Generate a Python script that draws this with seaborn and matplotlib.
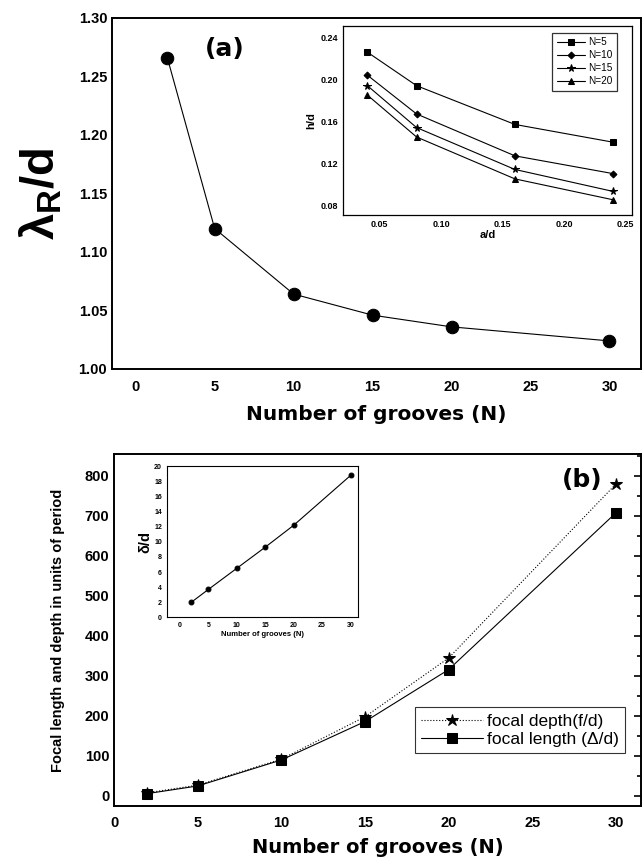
import matplotlib
matplotlib.use("Agg")
import matplotlib.pyplot as plt
import seaborn as sns
import numpy as np
from matplotlib.ticker import AutoMinorLocator

sns.set_style("white")
plt.rcParams['font.family'] = ['Liberation Sans', 'DejaVu Sans']
plt.rcParams['mathtext.fontset'] = 'custom'
plt.rcParams['mathtext.rm'] = 'Liberation Sans:bold'
plt.rcParams['mathtext.it'] = 'Liberation Sans:bold'
plt.rcParams['mathtext.bf'] = 'Liberation Sans:bold'
for key in ['text.color', 'axes.labelcolor', 'xtick.color', 'ytick.color', 'axes.edgecolor']:
    plt.rcParams[key] = 'black'

# ---- data: panel (a) ----
grooves = [2, 5, 10, 15, 20, 30]
lambda_r = [1.266, 1.120, 1.064, 1.046, 1.036, 1.024]

# inset (a)
a_d = [0.04, 0.08, 0.16, 0.24]
h_n5 = [0.226, 0.194, 0.157, 0.140]
h_n10 = [0.204, 0.167, 0.127, 0.110]
h_n15 = [0.194, 0.154, 0.114, 0.093]
h_n20 = [0.185, 0.145, 0.105, 0.085]
inset_labels = ["N=5", "N=10", "N=15", "N=20"]

# ---- data: panel (b) ----
focal_depth = [8, 27, 92, 198, 345, 780]
focal_length = [6, 25, 90, 186, 316, 708]
delta_d = [2.0, 3.7, 6.5, 9.3, 12.2, 18.8]

XFONT = 'DejaVu Sans'

fig = plt.figure(figsize=(6.42, 8.67), dpi=100)

def style_ax(ax, size=10.5, length=5, width=1.2):
    ax.tick_params(which='both', direction='in', width=width, color='k', labelcolor='k')
    ax.tick_params(which='major', length=length, labelsize=size)
    ax.tick_params(which='minor', length=length * 0.6)
    for s in ax.spines.values():
        s.set_linewidth(1.4)
        s.set_color('k')
    for lab in ax.get_xticklabels() + ax.get_yticklabels():
        lab.set_fontweight('bold')

# ===== Panel (a) =====
axa = fig.add_axes([0.1745, 0.5744, 0.824, 0.405])
sns.lineplot(x=grooves, y=lambda_r, ax=axa, color='k', lw=0.8, marker='o',
             markersize=9, markeredgecolor='k', markerfacecolor='k')
axa.set_xlim(-1.5, 32)
axa.set_ylim(1.0, 1.3)
axa.set_xticks([0, 5, 10, 15, 20, 25, 30])
axa.set_yticks(np.round(np.arange(1.0, 1.301, 0.05), 2))
axa.set_yticklabels([f"{v:.2f}" for v in np.arange(1.0, 1.301, 0.05)])
axa.xaxis.set_minor_locator(AutoMinorLocator(2))
axa.yaxis.set_minor_locator(AutoMinorLocator(2))
style_ax(axa)
axa.tick_params(axis='x', pad=8)
axa.set_xlabel("Number of grooves (N)", fontsize=14.5, fontweight='bold',
               labelpad=8, family=XFONT, color='k')
axa.set_ylabel(r"$\lambda_R/d$", fontsize=34, labelpad=10, color='k')
axa.text(0.175, 0.91, "(a)", transform=axa.transAxes, fontsize=18,
         fontweight='bold', ha='left', va='center', family=XFONT, color='k')

# inset (a)
ina = fig.add_axes([0.534, 0.752, 0.450, 0.218])
markers = ['s', 'D', '*', '^']
msizes = [4, 3.5, 5.5, 5]
for ys, lab, mk, ms in zip([h_n5, h_n10, h_n15, h_n20], inset_labels, markers, msizes):
    sns.lineplot(x=a_d, y=ys, ax=ina, color='k', lw=0.8, marker=mk, markersize=ms,
                 markeredgecolor='k', markerfacecolor='k', label=lab)
ina.set_xlim(0.02, 0.255)
ina.set_ylim(0.0705, 0.251)
ina.set_xticks([0.05, 0.10, 0.15, 0.20, 0.25])
ina.set_xticklabels(["0.05", "0.10", "0.15", "0.20", "0.25"])
ina.set_yticks([0.08, 0.12, 0.16, 0.20, 0.24])
ina.set_yticklabels(["0.08", "0.12", "0.16", "0.20", "0.24"])
ina.xaxis.set_minor_locator(AutoMinorLocator(2))
ina.yaxis.set_minor_locator(AutoMinorLocator(2))
style_ax(ina, size=6.5, length=3, width=0.8)
for s in ina.spines.values():
    s.set_linewidth(0.9)
ina.set_xlabel("a/d", fontsize=8, fontweight='bold', labelpad=1, color='k')
ina.set_ylabel("h/d", fontsize=8, fontweight='bold', labelpad=3, color='k')
leg = ina.legend(loc='upper right', bbox_to_anchor=(0.965, 0.99), fontsize=7.2,
                 frameon=True, fancybox=False, edgecolor='k', handlelength=2.8,
                 borderpad=0.45, labelspacing=0.3, handletextpad=0.3)
leg.get_frame().set_linewidth(0.9)

# ===== Panel (b) =====
axb = fig.add_axes([0.1776, 0.0704, 0.821, 0.406])
sns.lineplot(x=grooves, y=focal_depth, ax=axb, color='k', lw=0.8, linestyle=':',
             marker='*', markersize=9, markeredgecolor='k', markerfacecolor='k',
             label="focal depth(f/d)")
sns.lineplot(x=grooves, y=focal_length, ax=axb, color='k', lw=0.8, linestyle='-',
             marker='s', markersize=7, markeredgecolor='k', markerfacecolor='k',
             label="focal length (Δ/d)")
axb.set_xlim(0, 31.5)
axb.set_ylim(-25, 855)
axb.set_xticks([0, 5, 10, 15, 20, 25, 30])
axb.set_yticks(list(range(0, 801, 100)))
axb.xaxis.set_minor_locator(AutoMinorLocator(2))
axb.yaxis.set_minor_locator(AutoMinorLocator(2))
axb.tick_params(which='both', right=True)
style_ax(axb)
axb.tick_params(axis='x', pad=7)
axb.set_xlabel("Number of grooves (N)", fontsize=14, fontweight='bold',
               labelpad=6, family=XFONT, color='k')
axb.set_ylabel("Focal length and depth in units of period", fontsize=10.5,
               fontweight='bold', labelpad=14, color='k')
axb.text(0.85, 0.926, "(b)", transform=axb.transAxes, fontsize=18,
         fontweight='bold', ha='left', va='center', family=XFONT, color='k')
legb = axb.legend(loc='lower right', bbox_to_anchor=(0.985, 0.125), fontsize=12.5,
                  frameon=True, fancybox=False, edgecolor='k', handlelength=3.6,
                  borderpad=0.35, labelspacing=0.2, handletextpad=0.2)
legb.get_frame().set_linewidth(0.8)

# inset (b)
inb = fig.add_axes([0.260, 0.288, 0.2975, 0.174])
sns.lineplot(x=grooves, y=delta_d, ax=inb, color='k', lw=0.8, marker='o',
             markersize=3.5, markeredgecolor='k', markerfacecolor='k')
inb.set_xlim(-2.3, 31.3)
inb.set_ylim(0, 20)
inb.set_xticks([0, 5, 10, 15, 20, 25, 30])
inb.set_yticks(list(range(0, 21, 2)))
inb.xaxis.set_minor_locator(AutoMinorLocator(2))
style_ax(inb, size=5, length=2, width=0.6)
for s in inb.spines.values():
    s.set_linewidth(0.8)
inb.set_xlabel("Number of grooves (N)", fontsize=5.5, fontweight='bold', labelpad=1, color='k')
inb.set_ylabel("δ/d", fontsize=10.5, fontweight='bold', labelpad=1, color='k')

fig.savefig("out.png", dpi=100)
